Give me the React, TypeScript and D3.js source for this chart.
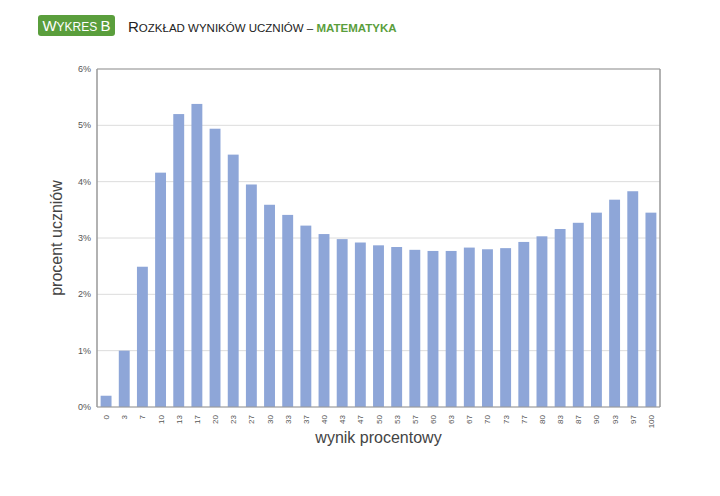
import { useEffect, useRef } from "react";
import * as d3 from "d3";

const categories = ["0", "3", "7", "10", "13", "17", "20", "23", "27", "30", "33", "37", "40", "43", "47", "50", "53", "57", "60", "63", "67", "70", "73", "77", "80", "83", "87", "90", "93", "97", "100"];
const percents = [0.2, 1.0, 2.49, 4.16, 5.2, 5.38, 4.94, 4.48, 3.95, 3.59, 3.41, 3.22, 3.07, 2.98, 2.92, 2.87, 2.84, 2.79, 2.77, 2.77, 2.83, 2.8, 2.82, 2.93, 3.03, 3.16, 3.27, 3.45, 3.68, 3.83, 3.45];
const yTicks = [0, 1, 2, 3, 4, 5, 6];

const W = 720;
const H = 496;

export default function App() {
  const svgRef = useRef<SVGSVGElement>(null);

  useEffect(() => {
    if (!svgRef.current) return;
    const svg = d3.select(svgRef.current);
    svg.selectAll("*").remove();

    const margin = { top: 69, right: 60, bottom: 89, left: 97 };
    const width = W - margin.left - margin.right;
    const height = H - margin.top - margin.bottom;
    const font = "Liberation Sans, Arial, sans-serif";

    // title
    svg.append("rect")
      .attr("x", 38).attr("y", 15).attr("width", 77).attr("height", 21)
      .attr("rx", 3).attr("fill", "#5a9e3c");
    const badge = svg.append("text")
      .attr("x", 76.5).attr("y", 31).attr("text-anchor", "middle")
      .attr("font-family", font).attr("fill", "#fff");
    badge.append("tspan").attr("font-size", "15px").text("W");
    badge.append("tspan").attr("font-size", "12px").text("YKRES ");
    badge.append("tspan").attr("font-size", "15px").text("B");

    const title = svg.append("text")
      .attr("x", 128).attr("y", 32)
      .attr("font-family", font).attr("fill", "#222");
    title.append("tspan").attr("font-size", "15px").text("R");
    title.append("tspan").attr("font-size", "11.5px").text("OZKŁAD WYNIKÓW UCZNIÓW – ");
    title.append("tspan").attr("font-size", "11.5px").attr("font-weight", "bold")
      .attr("fill", "#5a9e3c").text("MATEMATYKA");

    const g = svg.append("g").attr("transform", `translate(${margin.left},${margin.top})`);

    const x = d3.scaleBand<string>().domain(categories).range([0, width]).paddingInner(0.4).paddingOuter(0.2);
    const y = d3.scaleLinear().domain([0, 6]).range([height, 0]);

    g.selectAll(".grid")
      .data(yTicks)
      .enter()
      .append("line")
      .attr("x1", 0).attr("x2", width)
      .attr("y1", (d) => y(d)).attr("y2", (d) => y(d))
      .attr("stroke", "#dcdcdc").attr("stroke-width", 1);

    g.selectAll(".bar")
      .data(percents)
      .enter()
      .append("rect")
      .attr("x", (_, i) => x(categories[i]) ?? 0)
      .attr("y", (d) => y(d))
      .attr("width", x.bandwidth())
      .attr("height", (d) => height - y(d))
      .attr("fill", "#8ea6d8");

    // frame
    g.append("line").attr("x1", 0).attr("x2", width).attr("y1", 0).attr("y2", 0)
      .attr("stroke", "#999").attr("stroke-width", 1);
    g.append("line").attr("x1", width).attr("x2", width).attr("y1", 0).attr("y2", height)
      .attr("stroke", "#999").attr("stroke-width", 1.5);
    g.append("line").attr("x1", 0).attr("x2", 0).attr("y1", 0).attr("y2", height)
      .attr("stroke", "#999").attr("stroke-width", 1.5);
    g.append("line").attr("x1", 0).attr("x2", width).attr("y1", height).attr("y2", height)
      .attr("stroke", "#999").attr("stroke-width", 1);

    g.selectAll(".ytick")
      .data(yTicks)
      .enter()
      .append("text")
      .attr("x", -6).attr("y", (d) => y(d) + 3)
      .attr("text-anchor", "end")
      .attr("font-family", font).attr("font-size", "9px").attr("fill", "#555")
      .text((d) => `${d}%`);

    g.selectAll(".xtick")
      .data(categories)
      .enter()
      .append("text")
      .attr("transform", (d) => `translate(${(x(d) ?? 0) + x.bandwidth() / 2 + 3},${height + 8}) rotate(-90)`)
      .attr("text-anchor", "end")
      .attr("font-family", font).attr("font-size", "8px").attr("fill", "#555")
      .text((d) => d);

    svg.append("text")
      .attr("transform", `translate(62,${margin.top + height / 2}) rotate(-90)`)
      .attr("text-anchor", "middle")
      .attr("font-family", font).attr("font-size", "16px").attr("fill", "#444")
      .text("procent uczniów");

    svg.append("text")
      .attr("x", margin.left + width / 2).attr("y", 443)
      .attr("text-anchor", "middle")
      .attr("font-family", font).attr("font-size", "16px").attr("fill", "#444")
      .text("wynik procentowy");
  }, []);

  return <svg ref={svgRef} width={W} height={H} style={{ display: "block", margin: -8 }} />;
}
